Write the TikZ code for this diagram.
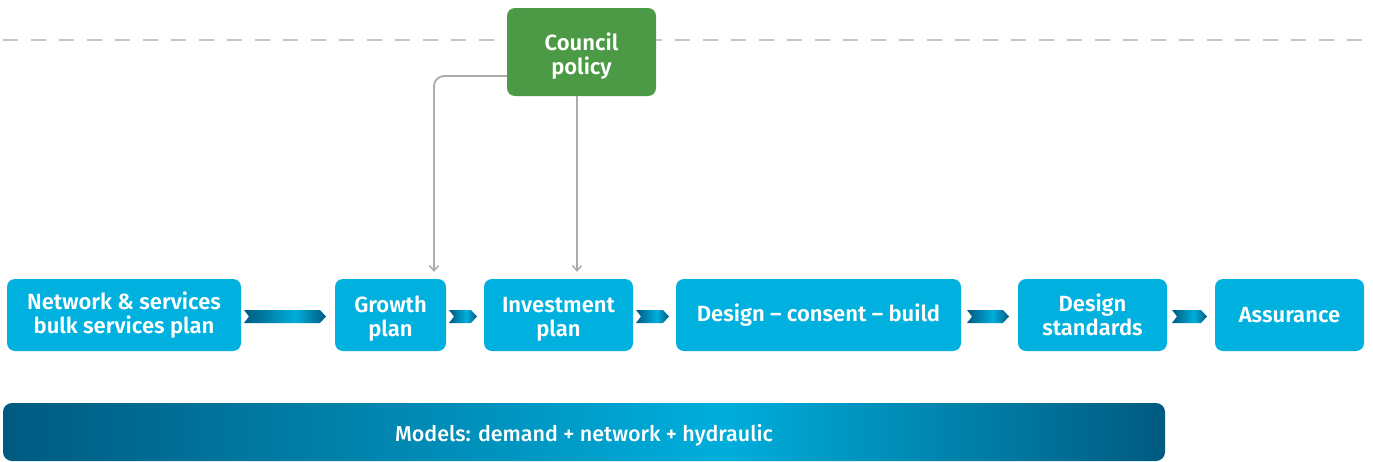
\documentclass[tikz,border=0pt]{standalone}
\usepackage{fontspec}
\setmainfont{Fira Sans}[BoldFont={Fira Sans SemiBold}]
\newfontfamily\modelsfont{Fira Sans Medium}
\usetikzlibrary{arrows.meta,calc}
\definecolor{boxblue}{HTML}{00B0DE}
\definecolor{darkblue}{HTML}{005A80}
\definecolor{lightblue}{HTML}{00AEDC}
\definecolor{councilgreen}{HTML}{4C9A45}
\definecolor{conngray}{HTML}{ABABAB}
\definecolor{dashgray}{HTML}{C4C4C4}
\pgfdeclarehorizontalshading{chevshade}{100bp}{color(0bp)=(darkblue); color(25bp)=(darkblue); color(56bp)=(lightblue); color(75bp)=(darkblue); color(100bp)=(darkblue)}
\pgfdeclarehorizontalshading{barshade}{100bp}{color(0bp)=(darkblue); color(25bp)=(darkblue); color(56bp)=(lightblue); color(75bp)=(darkblue); color(100bp)=(darkblue)}
\tikzset{
  box/.style={rectangle, rounded corners=8pt, fill=boxblue, text=white, align=center, inner sep=0pt,
    font=\bfseries\fontsize{22}{23.5}\selectfont, minimum height=72pt},
  policy/.style={box, fill=councilgreen, minimum height=88pt},
  conn/.style={draw=conngray, line width=1.8pt, rounded corners=10pt, -{Straight Barb[length=5pt,width=9pt,line width=1.5pt]}},
  chev/.style={shading=chevshade, draw=none},
}
\newcommand{\topfix}[1]{\rule{0pt}{#1}}
\newcommand{\mychevron}[3]{%
  \path[chev] (#1,#3-6.5) -- (#2-6,#3-6.5) -- (#2,#3) -- (#2-6,#3+6.5) -- (#1,#3+6.5) -- (#1+5,#3) -- cycle;}
\begin{document}
\begin{tikzpicture}[x=1pt,y=-1pt]
\useasboundingbox (0,0) rectangle (1373,461);
% dashed line
\draw[dashgray, line width=1.4pt, dash pattern=on 15pt off 13pt] (3,40) -- (1373,40);
% nodes
\node[policy, minimum width=149pt] (council) at (581.5,52) {\topfix{26pt}Council\\policy};
\node[box, minimum width=234pt] (net) at (124,315) {Network \& services\\bulk services plan};
\node[box, minimum width=111pt] (growth) at (390.5,315) {\topfix{24pt}Growth\\plan};
\node[box, minimum width=149pt] (invest) at (558.5,315) {\topfix{24pt}Investment\\plan};
\node[box, minimum width=285pt] (dcb) at (818.5,315) {Design -- consent -- build};
\node[box, minimum width=149pt] (std) at (1092.5,315) {Design\\standards};
\node[box, minimum width=149pt] (assur) at (1289.5,315) {Assurance};
\node[rectangle, rounded corners=9pt, shading=barshade, text=white, minimum width=1162pt, minimum height=58pt, inner sep=0pt,
  font=\modelsfont\fontsize{21.5}{24}\selectfont] (models) at (584,432) {\topfix{23pt}Models: demand + network + hydraulic};
% chevrons
\mychevron{244}{326}{316.5}
\mychevron{449}{477}{316.5}
\mychevron{636}{669}{316.5}
\mychevron{967}{1009}{316.5}
\mychevron{1172}{1207}{316.5}
% connectors
\coordinate (cleft) at ($(council.west)+(0,24)$);
\coordinate (gtop) at ($(growth.north)+(43.5,-7)$);
\coordinate (cbot) at ($(council.south)+(-4.5,0)$);
\coordinate (itop) at ($(invest.north)+(0,-7)$);
\draw[conn] (cleft) -| (gtop);
\draw[conn] (cbot) -- (cbot |- itop);
\end{tikzpicture}
\end{document}
